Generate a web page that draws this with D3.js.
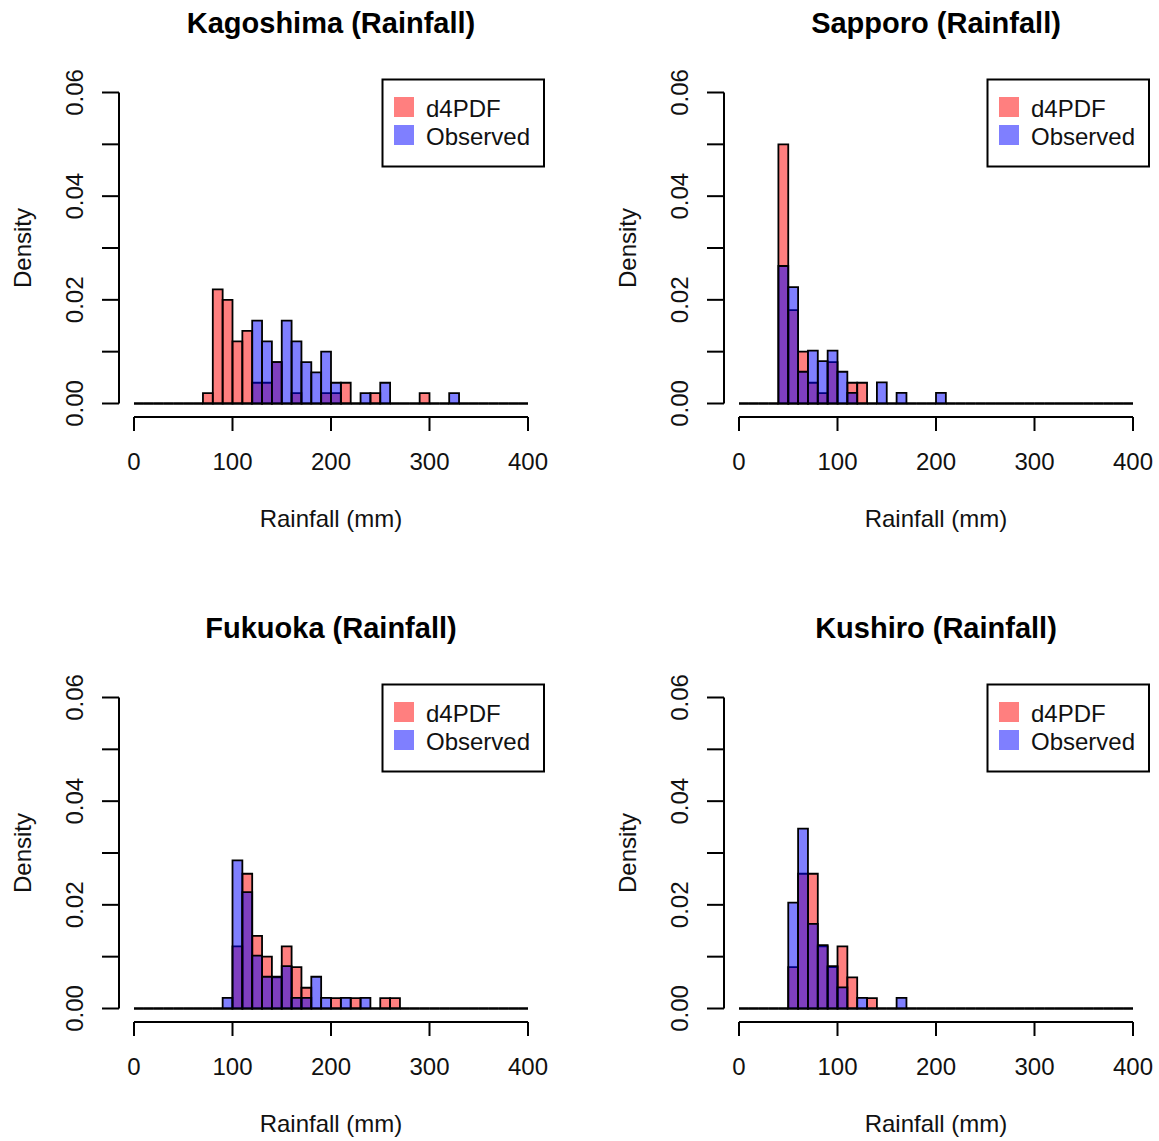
<!DOCTYPE html>
<html>
<head>
<meta charset="utf-8">
<script src="https://cdn.jsdelivr.net/npm/d3@7"></script>
<style>
  body { margin: 0; background: #fff; }
  svg { display: block; font-family: "Liberation Sans", Arial, sans-serif; }
</style>
</head>
<body>
<div id="chart"></div>
<script>
// data: bin counts per 10 mm bin, 0-400 mm (40 bins)
let stations = ["Kagoshima", "Sapporo", "Fukuoka", "Kushiro"];
let seriesNames = ["d4PDF", "Observed"];
let binWidth = 10;
let breaks = d3.range(0, 400 + binWidth, binWidth);

let kagoshimaD4PDF = [0,0,0,0,0,0,0,1,11,10, 6,7,2,2,4,0,1,0,0,1, 1,2,0,0,1,0,0,0,0,1, 0,0,0,0,0,0,0,0,0,0];
let kagoshimaObs   = [0,0,0,0,0,0,0,0,0,0, 0,0,8,6,4,8,6,4,3,5, 2,0,0,1,0,2,0,0,0,0, 0,0,1,0,0,0,0,0,0,0];
let sapporoD4PDF   = [0,0,0,0,25,9,5,2,1,4, 0,2,2,0,0,0,0,0,0,0, 0,0,0,0,0,0,0,0,0,0, 0,0,0,0,0,0,0,0,0,0];
let sapporoObs     = [0,0,0,0,13,11,3,5,4,5, 3,1,0,0,2,0,1,0,0,0, 1,0,0,0,0,0,0,0,0,0, 0,0,0,0,0,0,0,0,0,0];
let fukuokaD4PDF   = [0,0,0,0,0,0,0,0,0,0, 6,13,7,5,3,6,4,2,0,0, 1,0,1,0,0,1,1,0,0,0, 0,0,0,0,0,0,0,0,0,0];
let fukuokaObs     = [0,0,0,0,0,0,0,0,0,1, 14,11,5,3,3,4,1,1,3,1, 0,1,0,1,0,0,0,0,0,0, 0,0,0,0,0,0,0,0,0,0];
let kushiroD4PDF   = [0,0,0,0,0,4,13,13,6,4, 6,3,0,1,0,0,0,0,0,0, 0,0,0,0,0,0,0,0,0,0, 0,0,0,0,0,0,0,0,0,0];
let kushiroObs     = [0,0,0,0,0,10,17,8,6,4, 2,0,1,0,0,0,1,0,0,0, 0,0,0,0,0,0,0,0,0,0, 0,0,0,0,0,0,0,0,0,0];

let xTicks = [0, 100, 200, 300, 400];
let yTicks = [0, 0.01, 0.02, 0.03, 0.04, 0.05, 0.06];
let yLabelTicks = [0, 0.02, 0.04, 0.06];

/** CONSTANTS */
let width = 1159,
  height = 1141,
  panelStep = 605,
  fontSize = 24,
  colors = ["rgba(255,0,0,0.5)", "rgba(0,0,255,0.5)"];

let panels = [
  { name: stations[0], series: [kagoshimaD4PDF, kagoshimaObs], col: 0, row: 0 },
  { name: stations[1], series: [sapporoD4PDF, sapporoObs], col: 1, row: 0 },
  { name: stations[2], series: [fukuokaD4PDF, fukuokaObs], col: 0, row: 1 },
  { name: stations[3], series: [kushiroD4PDF, kushiroObs], col: 1, row: 1 }
];

/** SCALES */
let xScale = d3.scaleLinear().domain([0, 400]).range([134, 528]);
let yScale = d3.scaleLinear().domain([0, 0.06]).range([403.5, 92.5]);

/** MAIN CODE */
let svg = d3.select("#chart")
  .append("svg")
  .attr("width", width)
  .attr("height", height);

svg.append("rect").attr("width", width).attr("height", height).attr("fill", "#fff");

panels.forEach(p => {
  let g = svg.append("g")
    .attr("transform", `translate(${p.col * panelStep}, ${p.row * panelStep})`);

  // histograms, d4PDF first then Observed on top
  p.series.forEach((counts, s) => {
    let total = d3.sum(counts);
    let bins = counts.map((c, i) => ({ x0: breaks[i], x1: breaks[i + 1], density: c / (total * binWidth) }));
    g.append("g")
      .selectAll("path")
      .data(bins)
      .join("path")
      .attr("d", d => {
        let x0 = xScale(d.x0), x1 = xScale(d.x1), y0 = yScale(0), y1 = yScale(d.density);
        return `M${x0},${y0}V${y1}H${x1}V${y0}Z`;
      })
      .attr("fill", colors[s])
      .attr("stroke", "#000")
      .attr("stroke-width", 1.8);
  });

  // y axis
  let yAxisX = 119;
  g.append("line")
    .attr("x1", yAxisX).attr("x2", yAxisX)
    .attr("y1", yScale(0)).attr("y2", yScale(0.06))
    .attr("stroke", "#000").attr("stroke-width", 2);
  g.selectAll("line.ytick")
    .data(yTicks)
    .join("line")
    .attr("class", "ytick")
    .attr("x1", yAxisX - 17).attr("x2", yAxisX)
    .attr("y1", d => yScale(d)).attr("y2", d => yScale(d))
    .attr("stroke", "#000").attr("stroke-width", 2);
  g.selectAll("text.ylab")
    .data(yLabelTicks)
    .join("text")
    .attr("class", "ylab")
    .attr("transform", d => `translate(83, ${yScale(d)}) rotate(-90)`)
    .attr("text-anchor", "middle")
    .attr("font-size", fontSize)
    .attr("fill", "#111")
    .text(d => d3.format(".2f")(d));
  g.append("text")
    .attr("transform", `translate(31, ${(yScale(0) + yScale(0.06)) / 2}) rotate(-90)`)
    .attr("text-anchor", "middle")
    .attr("font-size", fontSize)
    .attr("fill", "#111")
    .text("Density");

  // x axis
  let xAxisY = 417;
  g.append("line")
    .attr("x1", xScale(0)).attr("x2", xScale(400))
    .attr("y1", xAxisY).attr("y2", xAxisY)
    .attr("stroke", "#000").attr("stroke-width", 2);
  g.selectAll("line.xtick")
    .data(xTicks)
    .join("line")
    .attr("class", "xtick")
    .attr("x1", d => xScale(d)).attr("x2", d => xScale(d))
    .attr("y1", xAxisY).attr("y2", xAxisY + 14)
    .attr("stroke", "#000").attr("stroke-width", 2);
  g.selectAll("text.xlab")
    .data(xTicks)
    .join("text")
    .attr("class", "xlab")
    .attr("x", d => xScale(d))
    .attr("y", 470)
    .attr("text-anchor", "middle")
    .attr("font-size", fontSize)
    .attr("fill", "#111")
    .text(d => d);
  g.append("text")
    .attr("x", (xScale(0) + xScale(400)) / 2)
    .attr("y", 527)
    .attr("text-anchor", "middle")
    .attr("font-size", fontSize)
    .attr("fill", "#111")
    .text("Rainfall (mm)");

  // title
  g.append("text")
    .attr("x", (xScale(0) + xScale(400)) / 2)
    .attr("y", 33)
    .attr("text-anchor", "middle")
    .attr("font-size", 29)
    .attr("font-weight", "bold")
    .attr("fill", "#000")
    .text(`${p.name} (Rainfall)`);

  // legend
  let legend = g.append("g");
  legend.append("rect")
    .attr("x", 382.5).attr("y", 79.5)
    .attr("width", 161.5).attr("height", 87)
    .attr("fill", "#fff")
    .attr("stroke", "#000").attr("stroke-width", 2);
  seriesNames.forEach((name, s) => {
    legend.append("rect")
      .attr("x", 394).attr("y", 97 + s * 28)
      .attr("width", 20).attr("height", 20)
      .attr("fill", colors[s]);
    legend.append("text")
      .attr("x", 426).attr("y", 117 + s * 28)
      .attr("font-size", fontSize)
      .attr("fill", "#111")
      .text(name);
  });
});
</script>
</body>
</html>
